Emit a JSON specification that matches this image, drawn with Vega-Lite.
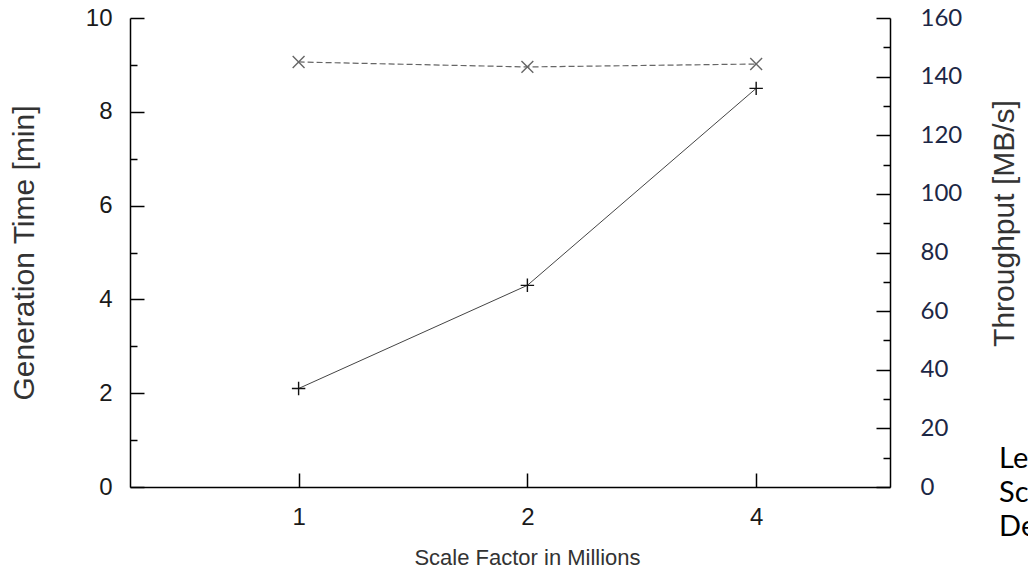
{
  "$schema": "https://vega.github.io/schema/vega-lite/v6.json",
  "width": 760,
  "height": 469,
  "autosize": {"type": "none"},
  "padding": {"left": 130, "top": 18, "right": 138, "bottom": 86},
  "background": "white",
  "config": {
    "view": {"stroke": null},
    "axis": {
      "grid": false,
      "domainColor": "#000",
      "domainWidth": 1.5,
      "tickColor": "#000",
      "tickWidth": 1.5,
      "labelFont": "Liberation Sans",
      "labelFontSize": 24,
      "labelColor": "#1a1a1a",
      "titleFont": "Liberation Sans",
      "titleFontSize": 22,
      "titleFontWeight": "normal",
      "titleColor": "#333"
    }
  },
  "data": {
    "values": [
      {"scale": 1, "time": 2.1, "throughput": 145},
      {"scale": 2, "time": 4.3, "throughput": 143.3},
      {"scale": 4, "time": 8.5, "throughput": 144.3}
    ]
  },
  "encoding": {
    "x": {
      "field": "scale",
      "type": "quantitative",
      "scale": {"type": "log", "base": 2, "domain": [0.6, 6], "nice": false},
      "axis": {
        "values": [1, 2, 4],
        "format": "d",
        "title": "Scale Factor in Millions",
        "tickSize": -14,
        "labelPadding": 32,
        "titlePadding": 18,
        "titleX": 397
      }
    }
  },
  "layer": [
    {
      "encoding": {
        "y": {
          "field": "time",
          "type": "quantitative",
          "scale": {"domain": [0, 10], "nice": false},
          "axis": {
            "orient": "left",
            "title": "Generation Time [min]",
            "titleFontSize": 30,
            "values": [0, 1, 2, 3, 4, 5, 6, 7, 8, 9, 10],
            "labelExpr": "datum.value % 2 == 0 ? datum.label : ''",
            "tickSize": {"condition": {"test": "datum.value % 2 === 1", "value": -7}, "value": -14},
            "labelPadding": 32,
            "titlePadding": 46
          }
        }
      },
      "layer": [
        {"mark": {"type": "line", "color": "#444", "strokeWidth": 1}},
        {
          "mark": {
            "type": "point",
            "shape": "M-1,0L1,0M0,-1L0,1",
            "filled": false,
            "stroke": "#111",
            "strokeWidth": 1.4,
            "size": 180,
            "opacity": 1
          }
        }
      ]
    },
    {
      "encoding": {
        "y": {
          "field": "throughput",
          "type": "quantitative",
          "scale": {"domain": [0, 160], "nice": false},
          "axis": {
            "orient": "right",
            "title": "Throughput [MB/s]",
            "titleFontSize": 30,
            "values": [0, 10, 20, 30, 40, 50, 60, 70, 80, 90, 100, 110, 120, 130, 140, 150, 160],
            "labelExpr": "datum.value % 20 == 0 ? datum.label : ''",
            "tickSize": {"condition": {"test": "datum.value % 20 === 10", "value": -7}, "value": -14},
            "labelPadding": 44,
            "labelFont": "Lato",
            "labelFontSize": 24,
            "labelColor": "#1c2745",
            "titleAngle": 270,
            "titleY": 205,
            "titlePadding": 58
          }
        }
      },
      "layer": [
        {"mark": {"type": "line", "color": "#666", "strokeWidth": 1.2, "strokeDash": [6, 3]}},
        {
          "mark": {
            "type": "point",
            "shape": "M-1,-1L1,1M-1,1L1,-1",
            "filled": false,
            "stroke": "#666",
            "strokeWidth": 1.4,
            "size": 140,
            "opacity": 1
          }
        }
      ]
    },
    {
      "data": {"values": [{"t": "Le", "pos": 8.35, "v": 0.9}]},
      "mark": {
        "type": "text",
        "text": ["Le", "Sc", "De"],
        "align": "left",
        "baseline": "top",
        "font": "Lato",
        "fontSize": 29,
        "lineHeight": 34,
        "color": "#000"
      },
      "encoding": {
        "x": {"field": "pos", "type": "quantitative"},
        "y": {"field": "v", "type": "quantitative", "axis": null, "scale": {"domain": [0, 10], "nice": false}}
      }
    }
  ],
  "resolve": {"scale": {"y": "independent"}}
}
